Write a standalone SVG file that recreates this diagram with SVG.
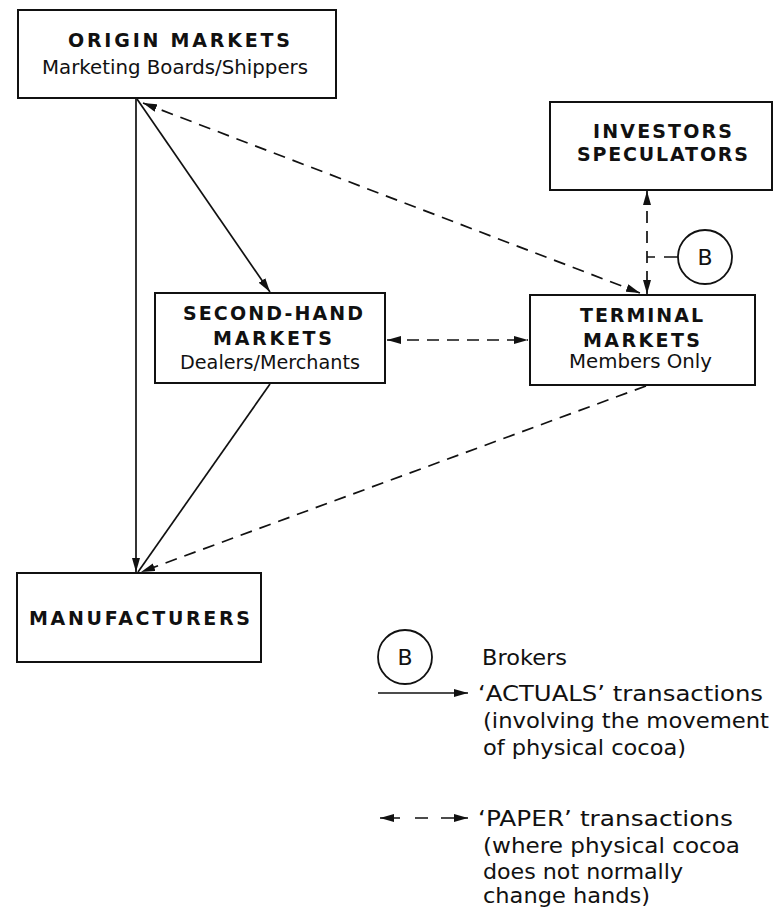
<svg xmlns="http://www.w3.org/2000/svg" width="774" height="910" viewBox="0 0 774 910">
<style>
  .box { fill: #fff; stroke: #111; stroke-width: 2; }
  .t { font-family: "DejaVu Sans", "Liberation Sans", sans-serif; font-weight: bold; font-size: 19px; fill: #111; }
  .s { font-family: "DejaVu Sans", "Liberation Sans", sans-serif; font-size: 20px; fill: #111; }
  .lg { font-family: "DejaVu Sans", "Liberation Sans", sans-serif; font-size: 22px; fill: #111; }
  .solid { fill: none; stroke: #111; stroke-width: 1.7; }
  .dash { fill: none; stroke: #111; stroke-width: 1.7; stroke-dasharray: 12 8; }
  .circ { fill: #fff; stroke: #111; stroke-width: 1.8; }
</style>
<defs>
  <marker id="ah" viewBox="0 0 14 8" refX="14" refY="4" markerWidth="14" markerHeight="8" markerUnits="userSpaceOnUse" orient="auto-start-reverse">
    <path d="M0,0 L14,4 L0,8 z" fill="#111"/>
  </marker>
</defs>
<rect width="774" height="910" fill="#fff"/>

<g id="connectors">
  <line class="solid" x1="136" y1="99" x2="136" y2="572" marker-end="url(#ah)"/>
  <line class="solid" x1="137" y1="99" x2="270" y2="292" marker-end="url(#ah)"/>
  <line class="solid" x1="270" y1="384" x2="138" y2="572"/>
  <line class="dash" x1="646" y1="386" x2="141" y2="572" marker-end="url(#ah)"/>
  <line class="dash" x1="143" y1="103" x2="640" y2="293" marker-start="url(#ah)" marker-end="url(#ah)"/>
  <line class="dash" x1="387" y1="340" x2="528" y2="340" marker-start="url(#ah)" marker-end="url(#ah)"/>
  <line class="dash" x1="647" y1="191" x2="647" y2="294" marker-start="url(#ah)" marker-end="url(#ah)"/>
  <path class="solid" d="M647,257 H655 M664,257 H678"/>
</g>

<g id="origin-markets">
  <rect class="box" x="18" y="10" width="318" height="88"/>
  <text class="t" x="68" y="47" textLength="222" lengthAdjust="spacing">ORIGIN MARKETS</text>
  <text class="s" x="42" y="74" textLength="266" lengthAdjust="spacingAndGlyphs">Marketing Boards/Shippers</text>
</g>

<g id="investors-speculators">
  <rect class="box" x="550" y="102" width="222" height="88"/>
  <text class="t" x="593" y="138" textLength="139" lengthAdjust="spacing">INVESTORS</text>
  <text class="t" x="577" y="161" textLength="171" lengthAdjust="spacing">SPECULATORS</text>
</g>

<g id="second-hand-markets">
  <rect class="box" x="155" y="293" width="230" height="90"/>
  <text class="t" x="183" y="320" textLength="180" lengthAdjust="spacing">SECOND-HAND</text>
  <text class="t" x="213" y="345" textLength="119" lengthAdjust="spacing">MARKETS</text>
  <text class="s" x="180" y="369" textLength="180" lengthAdjust="spacingAndGlyphs">Dealers/Merchants</text>
</g>

<g id="terminal-markets">
  <rect class="box" x="530" y="295" width="225" height="90"/>
  <text class="t" x="580" y="322" textLength="123" lengthAdjust="spacing">TERMINAL</text>
  <text class="t" x="583" y="347" textLength="117" lengthAdjust="spacing">MARKETS</text>
  <text class="s" x="569" y="368" textLength="143" lengthAdjust="spacingAndGlyphs">Members Only</text>
</g>

<g id="broker-node">
  <circle class="circ" cx="705" cy="257" r="27"/>
  <text class="lg" x="705" y="265" text-anchor="middle">B</text>
</g>

<g id="manufacturers">
  <rect class="box" x="17" y="573" width="244" height="89"/>
  <text class="t" x="29" y="625" textLength="221" lengthAdjust="spacing">MANUFACTURERS</text>
</g>

<g id="legend">
  <circle class="circ" cx="405" cy="657" r="27"/>
  <text class="lg" x="405" y="665" text-anchor="middle">B</text>
  <text class="lg" x="482" y="665" textLength="85" lengthAdjust="spacingAndGlyphs">Brokers</text>

  <line class="solid" x1="378" y1="693" x2="468" y2="693" marker-end="url(#ah)"/>
  <text class="lg" x="478" y="701" textLength="285" lengthAdjust="spacingAndGlyphs">‘ACTUALS’  transactions</text>
  <text class="lg" x="483" y="728" textLength="286" lengthAdjust="spacingAndGlyphs">(involving the movement</text>
  <text class="lg" x="483" y="755" textLength="203" lengthAdjust="spacingAndGlyphs">of physical cocoa)</text>

  <path class="solid" d="M380,818 H400 M415,818 H428 M441,818 H468" marker-start="url(#ah)" marker-end="url(#ah)"/>
  <text class="lg" x="478" y="826" textLength="255" lengthAdjust="spacingAndGlyphs">‘PAPER’  transactions</text>
  <text class="lg" x="483" y="853" textLength="257" lengthAdjust="spacingAndGlyphs">(where physical cocoa</text>
  <text class="lg" x="483" y="879" textLength="200" lengthAdjust="spacingAndGlyphs">does not normally</text>
  <text class="lg" x="483" y="903" textLength="167" lengthAdjust="spacingAndGlyphs">change hands)</text>
</g>
</svg>
